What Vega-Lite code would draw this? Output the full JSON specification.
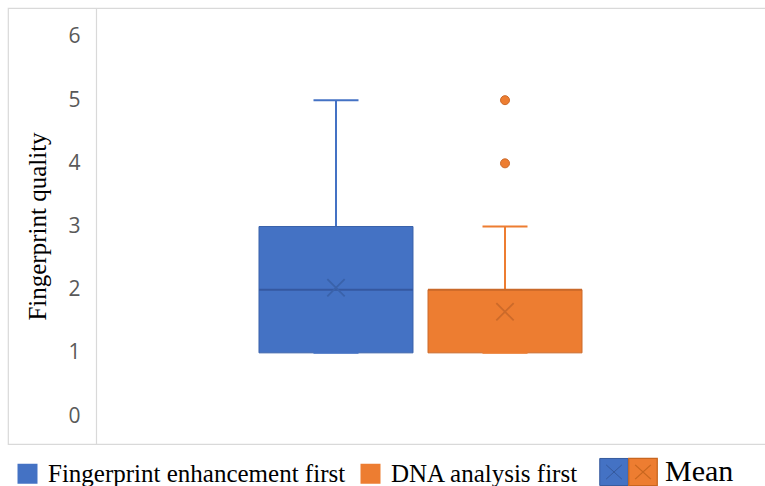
{
  "$schema": "https://vega.github.io/schema/vega-lite/v6.json",
  "width": 760,
  "height": 436,
  "autosize": {"type": "none"},
  "padding": {"left": 8, "top": 8, "right": 0, "bottom": 42},
  "background": "white",
  "config": {"view": {"stroke": "#d9d9d9", "strokeWidth": 1.2}},
  "datasets": {
    "stats": [
      {"group": "Fingerprint enhancement first", "min": 1, "q1": 1, "median": 2, "q3": 3, "max": 5, "mean": 2.03},
      {"group": "DNA analysis first", "min": 1, "q1": 1, "median": 2, "q3": 2, "max": 3, "mean": 1.65}
    ],
    "outliers": [
      {"group": "DNA analysis first", "value": 4},
      {"group": "DNA analysis first", "value": 5}
    ]
  },
  "encoding": {
    "x": {
      "field": "group",
      "type": "nominal",
      "axis": null,
      "scale": {
        "domain": ["Fingerprint enhancement first", "DNA analysis first"],
        "range": [251, 574],
        "paddingInner": 0.0888,
        "paddingOuter": 0
      }
    }
  },
  "layer": [
    {
      "data": {"name": "stats"},
      "mark": {"type": "rule", "strokeWidth": 2},
      "encoding": {
        "y": {
          "field": "q3",
          "type": "quantitative",
          "scale": {"domain": [-0.443, 6.459], "nice": false, "zero": false},
          "axis": {
            "values": [0, 1, 2, 3, 4, 5, 6],
            "format": "d",
            "grid": false,
            "ticks": false,
            "tickSize": 0,
            "offset": -88,
            "domainColor": "#d9d9d9",
            "domainWidth": 1.2,
            "labelFont": "Open Sans",
            "labelFontSize": 21,
            "labelColor": "#595959",
            "labelPadding": 16,
            "title": "Fingerprint quality",
            "titleFont": "Liberation Serif",
            "titleFontSize": 25,
            "titleFontWeight": "normal",
            "titleColor": "#000000",
            "titlePadding": 17
          }
        },
        "y2": {"field": "max"},
        "color": {
          "field": "group",
          "type": "nominal",
          "scale": {
            "domain": ["Fingerprint enhancement first", "DNA analysis first"],
            "range": ["#4472C4", "#ED7D31"]
          },
          "legend": {
            "orient": "none",
            "legendX": 7,
            "legendY": 453,
            "direction": "horizontal",
            "title": null,
            "padding": 0,
            "symbolType": "square",
            "symbolSize": 400,
            "symbolStrokeWidth": 0,
            "symbolOpacity": 1,
            "labelFont": "Liberation Serif",
            "labelFontSize": 25,
            "labelColor": "#000000",
            "labelOffset": 8,
            "labelLimit": 500,
            "columnPadding": 12
          }
        }
      }
    },
    {
      "data": {"name": "stats"},
      "mark": {"type": "rule", "strokeWidth": 2},
      "encoding": {
        "y": {"field": "min", "type": "quantitative"},
        "y2": {"field": "q1"},
        "color": {"field": "group", "type": "nominal"}
      }
    },
    {
      "data": {"name": "stats"},
      "mark": {"type": "bar"},
      "encoding": {
        "y": {"field": "q1", "type": "quantitative"},
        "y2": {"field": "q3"},
        "color": {"field": "group", "type": "nominal"},
        "stroke": {
          "field": "group",
          "type": "nominal",
          "scale": {
            "domain": ["Fingerprint enhancement first", "DNA analysis first"],
            "range": ["#3A62AA", "#CC6A2A"]
          },
          "legend": null
        },
        "strokeWidth": {
          "datum": " ",
          "type": "nominal",
          "scale": {"domain": [" "], "range": [1.5]},
          "legend": {
            "orient": "none",
            "legendX": 606,
            "legendY": 464,
            "title": null,
            "padding": 0,
            "symbolType": "M-1,-0.95H1V0.95H-1Z M-0.55,-0.5L0.55,0.5 M-0.55,0.5L0.55,-0.5",
            "symbolSize": 812,
            "symbolFillColor": "#4472C4",
            "symbolStrokeColor": "#35599C",
            "symbolStrokeWidth": 1.3,
            "symbolOpacity": 1,
            "labelFont": "Liberation Serif",
            "labelFontSize": 30,
            "labelColor": "#000000",
            "labelOffset": 0
          }
        },
        "opacity": {
          "datum": "Mean",
          "type": "nominal",
          "scale": {"domain": ["Mean"], "range": [1]},
          "legend": {
            "orient": "none",
            "legendX": 620,
            "legendY": 449,
            "title": null,
            "padding": 0,
            "symbolType": "M-1,-0.95H1V0.95H-1Z M-0.55,-0.5L0.55,0.5 M-0.55,0.5L0.55,-0.5",
            "symbolSize": 812,
            "symbolFillColor": "#ED7D31",
            "symbolStrokeColor": "#C8661F",
            "symbolStrokeWidth": 1.3,
            "symbolOpacity": 1,
            "labelFont": "Liberation Serif",
            "labelFontSize": 30,
            "labelColor": "#000000",
            "labelOffset": 7
          }
        }
      }
    },
    {
      "data": {"name": "stats"},
      "mark": {"type": "tick", "size": 154, "thickness": 2, "opacity": 1},
      "encoding": {
        "y": {"field": "median", "type": "quantitative"},
        "fill": {
          "field": "group",
          "type": "nominal",
          "scale": {
            "domain": ["Fingerprint enhancement first", "DNA analysis first"],
            "range": ["#3558A0", "#C9692A"]
          },
          "legend": null
        }
      }
    },
    {
      "data": {"name": "stats"},
      "mark": {"type": "tick", "size": 45, "thickness": 2, "opacity": 1},
      "encoding": {
        "y": {"field": "max", "type": "quantitative"},
        "color": {"field": "group", "type": "nominal"}
      }
    },
    {
      "data": {"name": "stats"},
      "mark": {"type": "tick", "size": 45, "thickness": 2, "opacity": 1},
      "encoding": {
        "y": {"field": "min", "type": "quantitative"},
        "color": {"field": "group", "type": "nominal"}
      }
    },
    {
      "data": {"name": "stats"},
      "mark": {"type": "point", "filled": false, "size": 300, "strokeWidth": 1.8, "opacity": 1, "shape": "M-1,-1L1,1M-1,1L1,-1"},
      "encoding": {
        "y": {"field": "mean", "type": "quantitative"},
        "stroke": {"field": "group", "type": "nominal", "legend": null}
      }
    },
    {
      "data": {"name": "outliers"},
      "mark": {"type": "point", "shape": "circle", "filled": true, "size": 81, "strokeWidth": 1, "opacity": 1},
      "encoding": {
        "y": {"field": "value", "type": "quantitative"},
        "color": {"field": "group", "type": "nominal"},
        "stroke": {"field": "group", "type": "nominal"}
      }
    }
  ]
}
